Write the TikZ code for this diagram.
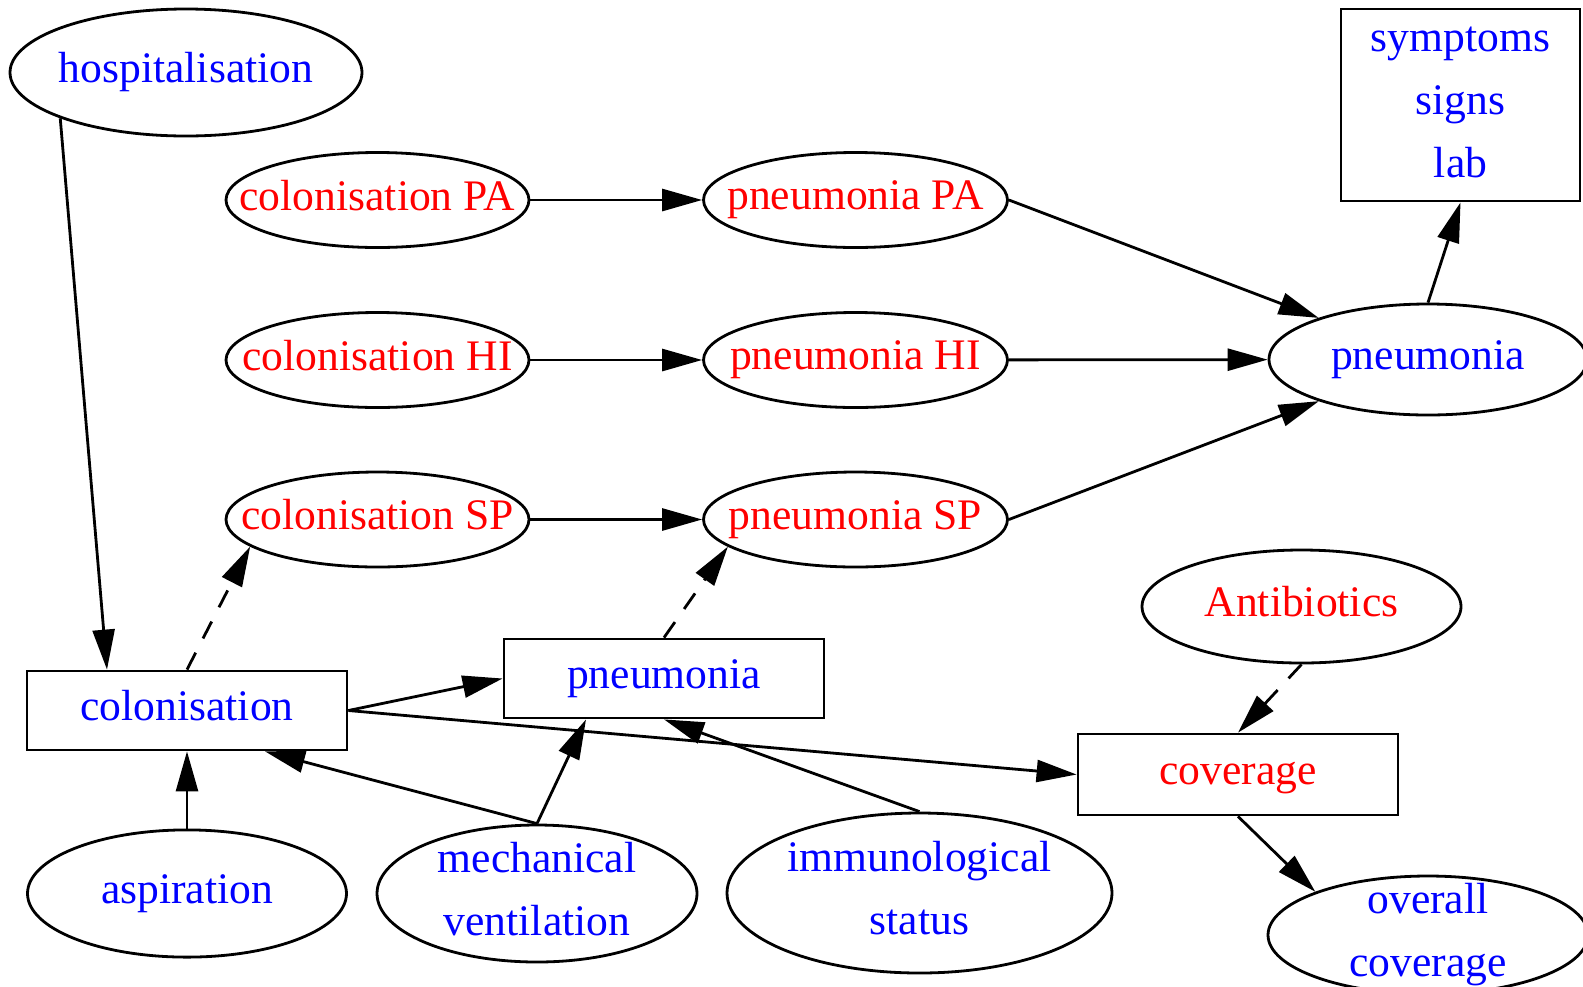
\documentclass[tikz,border=0pt]{standalone}
\usepackage{fontspec}
\setmainfont{Liberation Serif}
\usetikzlibrary{shapes.geometric,arrows.meta,calc}
\definecolor{lblue}{RGB}{0,0,255}
\definecolor{lred}{RGB}{255,0,0}
% line strut so every text line is centred on the same metrics
\newcommand\ls{\rule[-5pt]{0pt}{19.5pt}}

\begin{document}
\begin{tikzpicture}[x=0.5pt,y=-0.5pt,
  every node/.style={font=\fontsize{21.8}{31.5}\selectfont, inner sep=0pt,
                     line width=1.4pt, align=center},
  oval/.style={draw, ellipse, inner xsep=-30pt, inner ysep=-8pt},
  boxnode/.style={draw, rectangle},
  blu/.style={text=lblue},
  rd/.style={text=lred},
  link/.style={line width=1.4pt, -{Triangle[length=20pt,width=11pt]}},
  dlink/.style={link, dash pattern=on 9.5pt off 8pt}
]
\useasboundingbox (0,0) rectangle (1583,986);

% top row and pathogen chains
\node[oval,blu,minimum width=176pt,minimum height=63.5pt] (hosp) at (186,72.5) {\ls hospitalisation};
\node[oval,rd,minimum width=151.5pt,minimum height=47.5pt] (colPA) at (377.5,200) {\ls colonisation PA};
\node[oval,rd,minimum width=152pt,minimum height=47.5pt] (pnPA) at (855.5,200) {\ls pneumonia PA};
\node[oval,rd,minimum width=151.5pt,minimum height=47.5pt] (colHI) at (377.5,360) {\ls colonisation HI};
\node[oval,rd,minimum width=152pt,minimum height=47.5pt] (pnHI) at (855.5,360) {\ls pneumonia HI};
\node[oval,rd,minimum width=151.5pt,minimum height=47.5pt] (colSP) at (377.5,519.5) {\ls colonisation SP};
\node[oval,rd,minimum width=152pt,minimum height=47.5pt] (pnSP) at (855.5,519.5) {\ls pneumonia SP};
\node[oval,blu,minimum width=159pt,minimum height=55.5pt] (pn) at (1428,359.5) {\ls pneumonia};
\node[boxnode,blu,minimum width=119.5pt,minimum height=96pt] (symp) at (1460.5,105) {\ls symptoms\\\ls signs\\\ls lab};

% lower part
\node[oval,rd,minimum width=159.5pt,minimum height=56.5pt] (ab) at (1301.5,606.5) {\ls Antibiotics};
\node[boxnode,rd,minimum width=160pt,minimum height=40.5pt] (cov) at (1238,774.5) {\ls coverage};
\node[boxnode,blu,minimum width=160pt,minimum height=39.5pt] (colb) at (187,710.5) {\ls colonisation};
\node[boxnode,blu,minimum width=160pt,minimum height=39.5pt] (pnb) at (664,678.5) {\ls pneumonia};
\node[oval,blu,minimum width=159.5pt,minimum height=63.6pt] (asp) at (187,893.5) {\ls aspiration};
\node[oval,blu,minimum width=160pt,minimum height=68.5pt] (mech) at (537,893.5) {\ls mechanical\\\ls ventilation};
\node[oval,blu,minimum width=192.5pt,minimum height=80pt] (immun) at (919.5,893) {\ls immunological\\\ls status};
\node[oval,blu,minimum width=160pt,minimum height=59pt] (overall) at (1428,935) {\ls overall\\\ls coverage};

% connectors
\draw[link] (hosp.200.3) -- ($(colb.north)+(-80,0)$);
\draw[link] (colPA) -- (pnPA);
\draw[link] (colHI) -- (pnHI);
\draw[link] (colSP) -- (pnSP);
\draw[link] (pnPA.east) -- (pn);
\draw[link] (pnHI) -- (pn);
\draw[link] (pnSP.east) -- (pn);
\draw[link] (pn.north) -- (symp.south);
\draw[dlink] (colb.north) -- (colSP.192.1);
\draw[dlink] (pnb.north) -- (pnSP.192.8);
\draw[link] (colb.east) -- (pnb.west);
\draw[link] (colb.east) -- (cov.west);
\draw[link] (asp) -- (colb);
\draw[link] (mech.north) -- ($(colb.south)+(78,0)$);
\draw[link] (mech.north) -- ($(pnb.south)+(-78,0)$);
\draw[link] (immun.north) -- (pnb.south);
\draw[dlink] (ab.south) -- (cov.north);
\draw[link] (cov.south) -- (overall.159.3);
\end{tikzpicture}
\end{document}
